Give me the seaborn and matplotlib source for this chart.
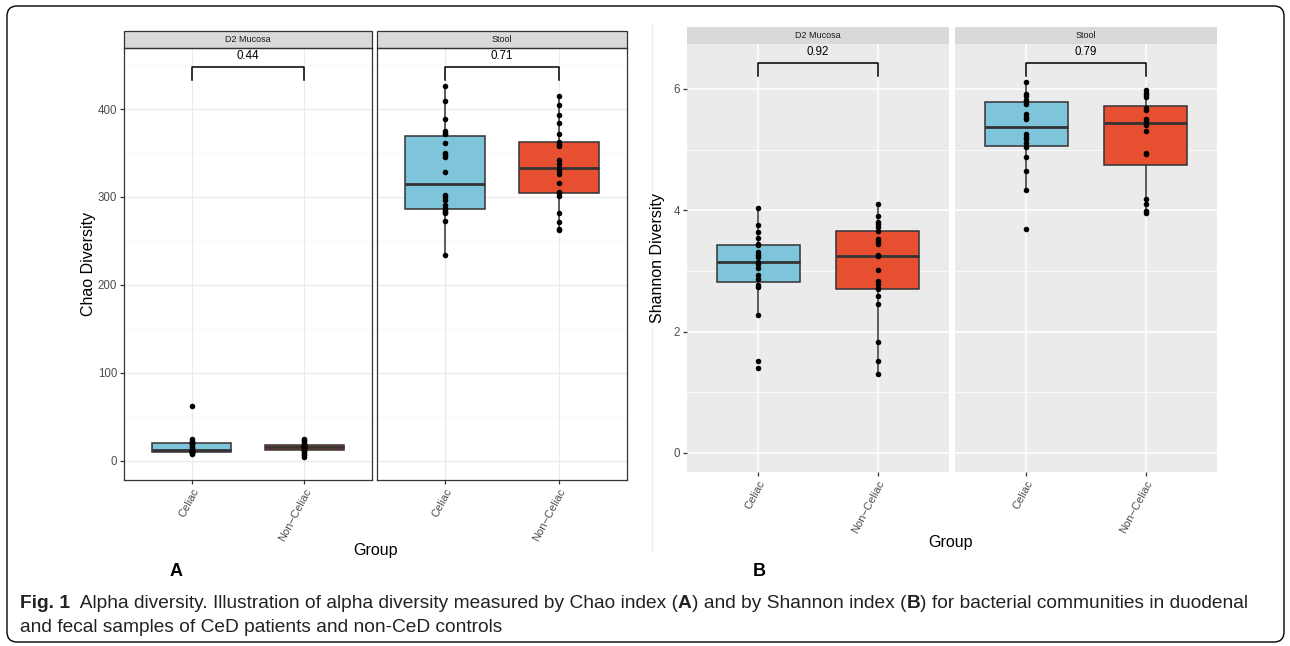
import numpy as np
import pandas as pd
import matplotlib
matplotlib.use('Agg')
import matplotlib.pyplot as plt
import seaborn as sns
from matplotlib.patches import Rectangle, FancyBboxPatch
from matplotlib.transforms import IdentityTransform

# ---- data ----
groups = ['Celiac', 'Non-Celiac']
tick_labels = ['Celiac', 'Non\u2212Celiac']
sites = ['D2 Mucosa', 'Stool']

chao_d2_celiac = [8, 9, 9, 10, 10, 10, 11, 11, 12, 12, 12, 14, 16, 18, 19, 20, 20, 21, 22, 25, 62]
chao_d2_noncel = [4, 6, 8, 10, 11, 12, 12, 13, 14, 15, 16, 16, 17, 17, 17, 18, 19, 20, 22, 24, 25]
chao_st_celiac = [234, 273, 282, 283, 284, 286, 287, 291, 296, 300, 302, 328, 345, 348, 350,
                  361, 372, 373, 375, 389, 409, 426]
chao_st_noncel = [262, 264, 272, 282, 301, 304, 306, 316, 326, 329, 333, 337, 342, 358, 360,
                  363, 372, 384, 393, 405, 415]

shan_d2_celiac = [1.40, 1.52, 2.28, 2.74, 2.77, 2.86, 2.93, 3.04, 3.11, 3.15, 3.23, 3.26, 3.31,
                  3.42, 3.45, 3.54, 3.64, 3.76, 4.03]
shan_d2_noncel = [1.30, 1.52, 1.83, 2.45, 2.58, 2.70, 2.72, 2.79, 2.84, 3.01, 3.25, 3.26, 3.45,
                  3.50, 3.53, 3.65, 3.73, 3.77, 3.81, 3.90, 4.11]
shan_st_celiac = [3.69, 4.33, 4.65, 4.87, 5.05, 5.10, 5.17, 5.21, 5.25, 5.51, 5.54, 5.58, 5.75,
                  5.79, 5.82, 5.89, 5.92, 6.12]
shan_st_noncel = [3.95, 3.98, 4.10, 4.19, 4.93, 4.94, 5.31, 5.41, 5.47, 5.51, 5.65, 5.68, 5.86,
                  5.90, 5.94, 5.98]

pvals_chao = ['0.44', '0.71']
pvals_shannon = ['0.92', '0.79']

colors = {'Celiac': '#7EC4DA', 'Non-Celiac': '#E64F30'}


def long_df(d2_c, d2_n, st_c, st_n):
    rows = []
    for site, grp, vals in [('D2 Mucosa', 'Celiac', d2_c), ('D2 Mucosa', 'Non-Celiac', d2_n),
                            ('Stool', 'Celiac', st_c), ('Stool', 'Non-Celiac', st_n)]:
        for v in vals:
            rows.append({'site': site, 'group': grp, 'value': v})
    return pd.DataFrame(rows)


chao = long_df(chao_d2_celiac, chao_d2_noncel, chao_st_celiac, chao_st_noncel)
shannon = long_df(shan_d2_celiac, shan_d2_noncel, shan_st_celiac, shan_st_noncel)

W, H = 1290, 646
fig = plt.figure(figsize=(W / 100, H / 100), dpi=100)
fig.patch.set_facecolor('white')
plt.rcParams['font.family'] = ['Liberation Sans', 'DejaVu Sans']


def px_axes(x0, y0, x1, y1):
    return fig.add_axes([x0 / W, 1 - y1 / H, (x1 - x0) / W, (y1 - y0) / H])


def facet(ax, df, site, ylim, major, minor, theme, show_y, pval, strip_h):
    sub = df[df.site == site]
    sns.boxplot(data=sub, x='group', y='value', hue='group', order=groups, hue_order=groups,
                palette=colors, saturation=1, width=0.7, whis=1.5, showfliers=False,
                showcaps=False, linecolor='#333333', linewidth=1.1,
                medianprops={'linewidth': 2.0}, legend=False, ax=ax)
    sns.stripplot(data=sub, x='group', y='value', order=groups, color='black', jitter=False,
                  size=4.0, ax=ax, zorder=4)
    ax.set_xlim(-0.6, 1.6)
    ax.set_ylim(*ylim)
    ax.set_yticks(major)
    ax.set_yticks(minor, minor=True)
    ax.set_xticks([0, 1])
    ax.set_xticklabels(tick_labels, rotation=62, ha='right', va='top', rotation_mode='anchor',
                       fontsize=8, color='#4D4D4D')
    ax.set_xlabel('')
    ax.set_ylabel('')
    ax.set_axisbelow(True)
    if theme == 'bw':
        ax.set_facecolor('white')
        ax.grid(True, which='major', color='#EBEBEB', linewidth=0.9)
        ax.grid(True, which='minor', axis='y', color='#F4F4F4', linewidth=0.5)
        for s in ax.spines.values():
            s.set_color('#333333')
            s.set_linewidth(0.9)
        strip_kw = dict(facecolor='#D9D9D9', edgecolor='#333333', linewidth=0.9)
    else:
        ax.set_facecolor('#EBEBEB')
        ax.grid(True, which='major', color='white', linewidth=1.1)
        ax.grid(True, which='minor', axis='y', color='white', linewidth=0.55)
        for s in ax.spines.values():
            s.set_visible(False)
        strip_kw = dict(facecolor='#D9D9D9', edgecolor='none')
    ax.tick_params(axis='both', which='major', length=3, width=0.9, color='#333333', pad=2)
    ax.tick_params(axis='y', which='minor', length=0)
    if show_y:
        ax.tick_params(axis='y', labelsize=8.3, labelcolor='#4D4D4D')
    else:
        ax.tick_params(axis='y', left=False, labelleft=False)
    # facet strip
    ax.add_patch(Rectangle((0, 1), 1, strip_h, transform=ax.transAxes, clip_on=False, **strip_kw))
    ax.text(0.5, 1 + strip_h / 2, site, transform=ax.transAxes, ha='center', va='center',
            fontsize=6.5, color='#1A1A1A')
    # significance bracket
    rng = ylim[1] - ylim[0]
    top = df['value'].max() + 0.044 * rng
    tip = 0.03 * rng
    ax.plot([0, 0, 1, 1], [top - tip, top, top, top - tip], color='black', linewidth=1.1,
            zorder=5)
    ax.text(0.5, top + 0.012 * rng, pval, ha='center', va='bottom', fontsize=8.3, color='black')


# ---- panel A (Chao) ----
chao_lim = (-22, 469.8)
chao_major = [0, 100, 200, 300, 400]
chao_minor = [50, 150, 250, 350, 450]
a_top, a_bot = 47.7, 480
axA1 = px_axes(124, a_top, 372, a_bot)
axA2 = px_axes(377, a_top, 627, a_bot)
sA = 16.7 / (a_bot - a_top)
facet(axA1, chao, 'D2 Mucosa', chao_lim, chao_major, chao_minor, 'bw', True, pvals_chao[0], sA)
facet(axA2, chao, 'Stool', chao_lim, chao_major, chao_minor, 'bw', False, pvals_chao[1], sA)

# ---- panel B (Shannon) ----
shan_lim = (-0.31, 6.74)
shan_major = [0, 2, 4, 6]
shan_minor = [1, 3, 5]
b_top, b_bot = 44, 471.7
axB1 = px_axes(687, b_top, 949, b_bot)
axB2 = px_axes(955, b_top, 1217, b_bot)
sB = 17.3 / (b_bot - b_top)
facet(axB1, shannon, 'D2 Mucosa', shan_lim, shan_major, shan_minor, 'gray', True,
      pvals_shannon[0], sB)
facet(axB2, shannon, 'Stool', shan_lim, shan_major, shan_minor, 'gray', False,
      pvals_shannon[1], sB)

# axis titles and panel letters
fig.text(88 / W, 1 - 264 / H, 'Chao Diversity', rotation=90, ha='center', va='center', fontsize=11.5)
fig.text(658 / W, 1 - 258 / H, 'Shannon Diversity', rotation=90, ha='center', va='center',
         fontsize=11.5)
fig.text(376 / W, 1 - 551 / H, 'Group', ha='center', va='center', fontsize=11.5)
fig.text(951 / W, 1 - 543 / H, 'Group', ha='center', va='center', fontsize=11.5)
fig.text(176 / W, 1 - 572 / H, 'A', ha='center', va='center', fontsize=13, fontweight='bold')
fig.text(759 / W, 1 - 572 / H, 'B', ha='center', va='center', fontsize=13, fontweight='bold')

# divider between panels and outer frame
fig.add_artist(plt.Line2D([652 / W, 652 / W], [1 - 24 / H, 1 - 550 / H], color='#EEEEEE',
                          linewidth=1))
fig.add_artist(FancyBboxPatch((7, 4), 1277, 636, boxstyle='round,pad=0,rounding_size=10',
                              transform=IdentityTransform(), facecolor='none',
                              edgecolor='black', linewidth=1))

# caption, drawn piece by piece so the bold parts sit inline
line1 = [('Fig. 1', 'bold'),
         ('  Alpha diversity. Illustration of alpha diversity measured by Chao index (', 'normal'),
         ('A', 'bold'), (') and by Shannon index (', 'normal'), ('B', 'bold'),
         (') for bacterial communities in duodenal', 'normal')]
line2 = [('and fecal samples of CeD patients and non-CeD controls', 'normal')]
cap_font = ['Liberation Sans Narrow', 'Liberation Sans']
renderer = fig.canvas.get_renderer()


def caption_line(parts, y, size):
    x = 20
    for txt, wt in parts:
        t = fig.text(x / W, 1 - y / H, txt, ha='left', va='center', fontsize=size,
                     fontweight=wt, family=cap_font, color='#222222')
        x += t.get_window_extent(renderer).width
    return x - 20


probe = [fig.text(0, 0, txt, fontsize=12, fontweight=wt, family=cap_font) for txt, wt in line1]
wsum = sum(p.get_window_extent(renderer).width for p in probe)
for p in probe:
    p.remove()
cap_size = 12 * 1232 / wsum
caption_line(line1, 604, cap_size)
caption_line(line2, 628, cap_size)

fig.savefig('out.png', dpi=100)
